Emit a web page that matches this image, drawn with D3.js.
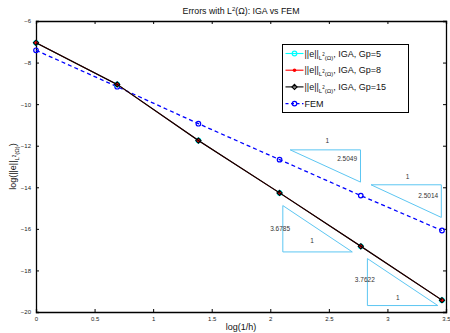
<!DOCTYPE html>
<html>
<head>
<meta charset="utf-8">
<script src="https://cdn.jsdelivr.net/npm/d3@7"></script>
<style>
  body { margin: 0; background: #fff; }
  svg { font-family: "Liberation Sans", Arial, sans-serif; }
</style>
</head>
<body>
<div id="chart"></div>
<script>
// data: x = log(1/h), y = log of L2 error
const logInvH = [0, 0.6931, 1.3863, 2.0794, 2.7726, 3.4657];
const igaGp5 = [-7.05, -9.05, -11.75, -14.27, -16.84, -19.43];
const igaGp8 = [-7.05, -9.05, -11.75, -14.27, -16.84, -19.43];
const igaGp15 = [-7.05, -9.05, -11.75, -14.27, -16.84, -19.43];
const fem = [-7.41, -9.16, -10.94, -12.67, -14.40, -16.08];

const xTicks = [0, 0.5, 1, 1.5, 2, 2.5, 3, 3.5];
const yTicks = [-6, -8, -10, -12, -14, -16, -18, -20];

// slope triangles: [xLeft, xRight, yTop, yBottom], corner = right angle position
const triangles = [
  {x0: 2.17, x1: 2.77, y0: -12.2, y1: -13.75, corner: "topRight"},
  {x0: 2.86, x1: 3.46, y0: -13.88, y1: -15.45, corner: "topRight"},
  {x0: 2.107, x1: 2.70, y0: -14.88, y1: -17.11, corner: "bottomLeft"},
  {x0: 2.829, x1: 3.43, y0: -17.43, y1: -19.69, corner: "bottomLeft"}
];
const triLabels = [
  {x: 2.486, y: -11.88, t: "1"},
  {x: 2.656, y: -12.75, t: "2.5049"},
  {x: 3.171, y: -13.6, t: "1"},
  {x: 3.348, y: -14.5, t: "2.5014"},
  {x: 2.084, y: -16.08, t: "3.6785"},
  {x: 2.357, y: -16.7, t: "1"},
  {x: 2.807, y: -18.55, t: "3.7622"},
  {x: 3.089, y: -19.43, t: "1"}
];

const width = 450, height = 333;
const margin = {left: 36, right: 4, top: 21, bottom: 21};

const svg = d3.select("#chart").append("svg")
  .attr("width", width)
  .attr("height", height);

const x = d3.scaleLinear().domain([0, 3.5]).range([margin.left, width - margin.right]);
const y = d3.scaleLinear().domain([-20, -6]).range([height - margin.bottom, margin.top]);

// axes, MATLAB style ticks pointing inward on all sides
const fmt = d => String(d).replace("-", "\u2212");
const axB = svg.append("g").attr("transform", `translate(0,${y(-20)})`)
  .call(d3.axisBottom(x).tickValues(xTicks).tickSize(-3).tickPadding(5).tickFormat(fmt));
const axT = svg.append("g").attr("transform", `translate(0,${y(-6)})`)
  .call(d3.axisTop(x).tickValues(xTicks).tickSize(-3).tickFormat(""));
const axL = svg.append("g").attr("transform", `translate(${x(0)},0)`)
  .call(d3.axisLeft(y).tickValues(yTicks).tickSize(-3).tickPadding(5).tickFormat(fmt));
const axR = svg.append("g").attr("transform", `translate(${x(3.5)},0)`)
  .call(d3.axisRight(y).tickValues(yTicks).tickSize(-3).tickFormat(""));

[axB, axT, axL, axR].forEach(a => {
  a.select(".domain").attr("stroke", "#000").attr("stroke-width", 1.3);
  a.selectAll(".tick line").attr("stroke", "#000");
  a.selectAll(".tick text").attr("font-size", 6).attr("fill", "#222")
    .attr("font-family", "Liberation Sans, Arial, sans-serif");
});

// slope triangles
const triColor = "#5cc6f2";
svg.append("g").selectAll("path")
  .data(triangles)
  .join("path")
  .attr("fill", "none")
  .attr("stroke", triColor)
  .attr("stroke-width", 1)
  .attr("d", d => {
    if (d.corner === "topRight") {
      return `M${x(d.x0)},${y(d.y0)}L${x(d.x1)},${y(d.y0)}L${x(d.x1)},${y(d.y1)}Z`;
    }
    return `M${x(d.x0)},${y(d.y0)}L${x(d.x0)},${y(d.y1)}L${x(d.x1)},${y(d.y1)}Z`;
  });

svg.append("g").selectAll("text")
  .data(triLabels)
  .join("text")
  .attr("x", d => x(d.x))
  .attr("y", d => y(d.y))
  .attr("text-anchor", "middle")
  .attr("font-size", 6.5)
  .attr("fill", "#333")
  .text(d => d.t);

// series
const line = d3.line().x(d => x(d[0])).y(d => y(d[1]));
const pts = vals => logInvH.map((v, i) => [v, vals[i]]);

const series = [
  {name: "Gp=5", vals: igaGp5, color: "#00ffff", dash: null, marker: "circle"},
  {name: "Gp=8", vals: igaGp8, color: "#ff0000", dash: null, marker: "dot"},
  {name: "Gp=15", vals: igaGp15, color: "#000000", dash: null, marker: "diamond"},
  {name: "FEM", vals: fem, color: "#0000ff", dash: "4,3", marker: "circle"}
];

function drawMarker(g, type, color, cx, cy) {
  if (type === "circle") {
    g.append("circle").attr("cx", cx).attr("cy", cy).attr("r", 2.3)
      .attr("fill", "none").attr("stroke", color).attr("stroke-width", 1.2);
  } else if (type === "dot") {
    g.append("circle").attr("cx", cx).attr("cy", cy).attr("r", 1.8).attr("fill", color);
  } else {
    const s = 2.6;
    g.append("path")
      .attr("d", `M${cx},${cy - s}L${cx + s},${cy}L${cx},${cy + s}L${cx - s},${cy}Z`)
      .attr("fill", "none").attr("stroke", color).attr("stroke-width", 1.1);
  }
}

const plot = svg.append("g");
[series[3], series[0], series[1], series[2]].forEach(s => {
  const g = plot.append("g");
  g.append("path")
    .datum(pts(s.vals))
    .attr("fill", "none")
    .attr("stroke", s.color)
    .attr("stroke-width", s.dash ? 1.3 : 1.1)
    .attr("stroke-dasharray", s.dash)
    .attr("d", line);
  pts(s.vals).forEach(p => drawMarker(g, s.marker, s.color, x(p[0]), y(p[1])));
});

// legend
const lg = svg.append("g").attr("transform", "translate(282.5,44.5)");
lg.append("rect").attr("width", 126).attr("height", 68)
  .attr("fill", "#fff").attr("stroke", "#000").attr("stroke-width", 1);
series.forEach((s, i) => {
  const yy = 9 + i * 16.7;
  lg.append("line").attr("x1", 3).attr("x2", 21).attr("y1", yy).attr("y2", yy)
    .attr("stroke", s.color).attr("stroke-width", 1.1).attr("stroke-dasharray", s.dash ? "3,2.5" : null);
  drawMarker(lg, s.marker, s.color, 12, yy);
  const t = lg.append("text").attr("x", 22).attr("y", yy + 3).attr("font-size", 9).attr("fill", "#111");
  if (s.name === "FEM") {
    t.text("FEM");
  } else {
    t.append("tspan").text("||e||");
    t.append("tspan").attr("font-size", 6).attr("dy", 3).text("L");
    t.append("tspan").attr("font-size", 4.5).attr("dy", -3.5).text("2");
    t.append("tspan").attr("font-size", 6).attr("dy", 3.5).text("(\u03a9)");
    t.append("tspan").attr("dy", -3).text(", IGA, " + s.name);
  }
});

// title and labels
const title = svg.append("text").attr("x", (x(0) + x(3.5)) / 2).attr("y", 14)
  .attr("text-anchor", "middle").attr("font-size", 8.8).attr("fill", "#111");
title.append("tspan").text("Errors with L");
title.append("tspan").attr("font-size", 6).attr("dy", -3).text("2");
title.append("tspan").attr("dy", 3).text("(\u03a9): IGA vs FEM");

svg.append("text").attr("x", (x(0) + x(3.5)) / 2).attr("y", 330)
  .attr("text-anchor", "middle").attr("font-size", 9).attr("fill", "#111")
  .text("log(1/h)");

const yl = svg.append("text")
  .attr("transform", `translate(16,${(y(-6) + y(-20)) / 2}) rotate(-90)`)
  .attr("text-anchor", "middle").attr("font-size", 9).attr("fill", "#111");
yl.append("tspan").text("log(||e||");
yl.append("tspan").attr("font-size", 6).attr("dy", 3).text("L");
yl.append("tspan").attr("font-size", 4.5).attr("dy", -3.5).text("2");
yl.append("tspan").attr("font-size", 6).attr("dy", 3.5).text("(\u03a9)");
yl.append("tspan").attr("dy", -3).text(")");
</script>
</body>
</html>
